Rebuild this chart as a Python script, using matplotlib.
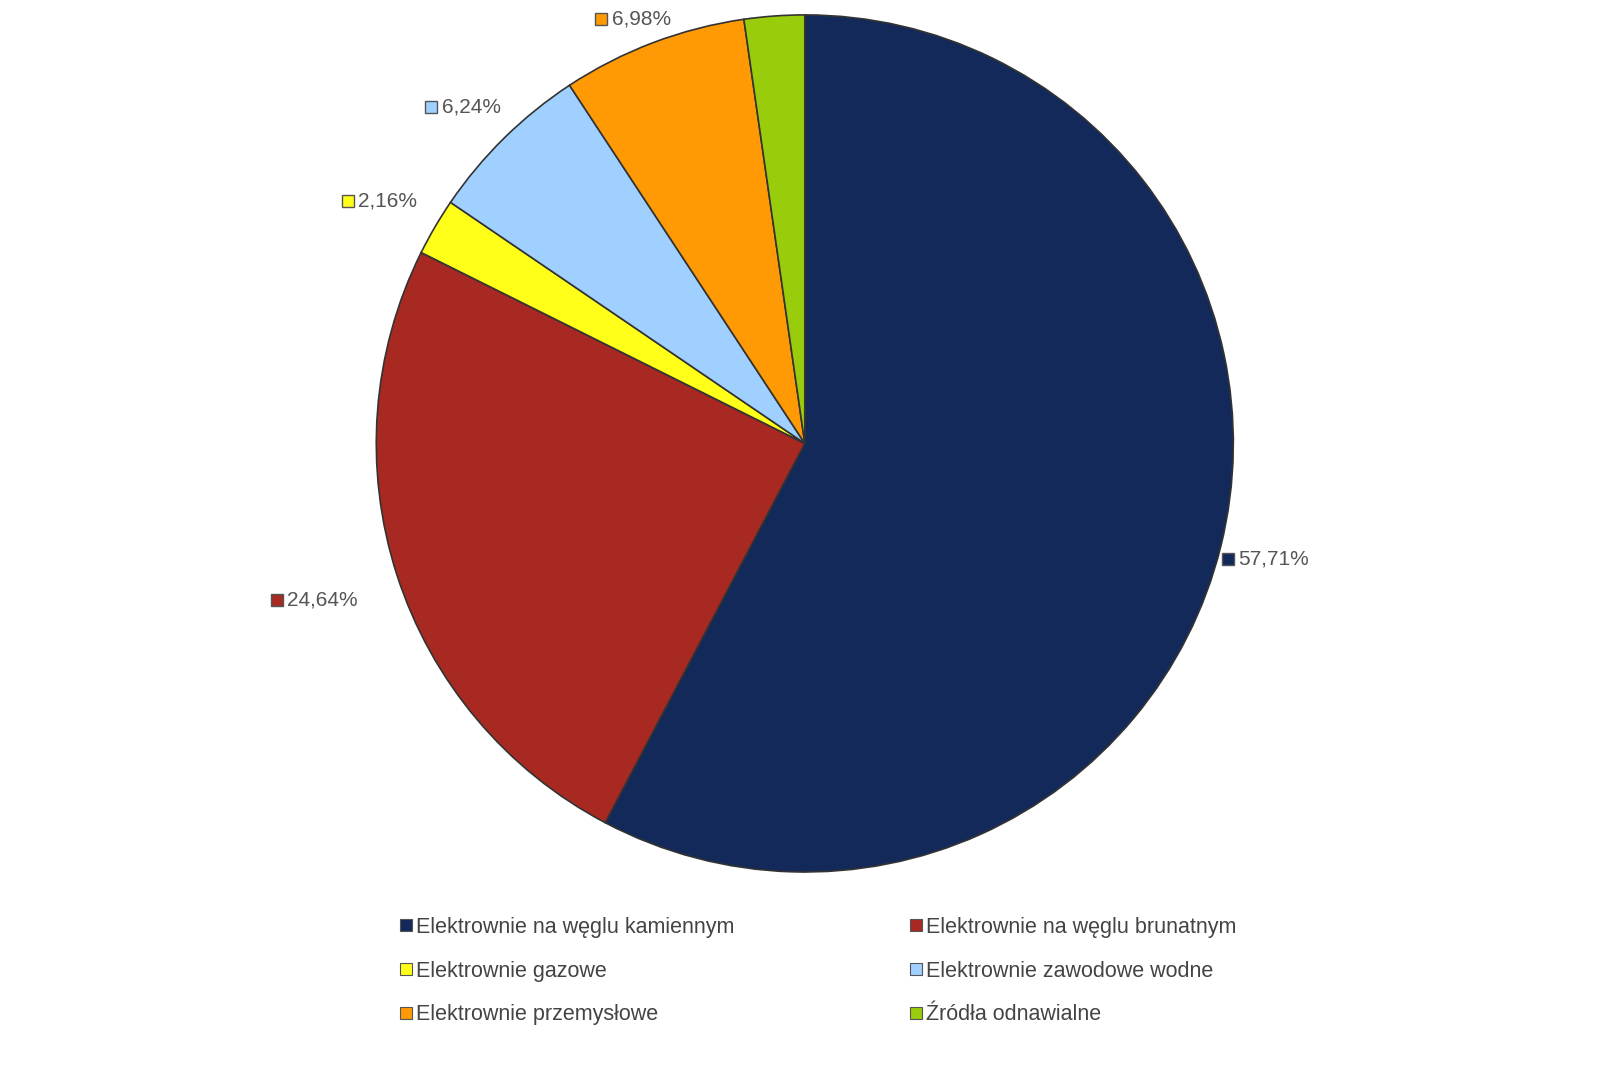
import numpy as np
import matplotlib
matplotlib.use('Agg')
import matplotlib.pyplot as plt
from matplotlib.lines import Line2D

plt.rcParams['font.family'] = ['Liberation Sans', 'DejaVu Sans']

labels = ['Elektrownie na węglu kamiennym', 'Elektrownie na węglu brunatnym',
          'Elektrownie gazowe', 'Elektrownie zawodowe wodne',
          'Elektrownie przemysłowe', 'Źródła odnawialne']
values = [57.71, 24.64, 2.16, 6.24, 6.98, 2.27]
value_text = ['57,71%', '24,64%', '2,16%', '6,24%', '6,98%', '2,27%']
colors = ['#13295a', '#a82922', '#ffff1a', '#9fd0ff', '#ff9a05', '#99cc0a']
label_r = [1.12, 1.19, 1.12, 1.1, 1.06, 1.1]

fig = plt.figure(figsize=(16, 10.66), dpi=100)
ax = fig.add_axes([0.235, 0.182, 0.536, 0.804])
wedges, _ = ax.pie(values, colors=colors, startangle=90, counterclock=False,
                   wedgeprops=dict(edgecolor='#333333', linewidth=1.2))
ax.set_aspect('equal')
ax.set_xlim(-1, 1)
ax.set_ylim(-1, 1)

for w, txt, c, r in zip(wedges, value_text, colors, label_r):
    ang = np.deg2rad((w.theta1 + w.theta2) / 2)
    x, y = r * np.cos(ang), r * np.sin(ang)
    ax.plot([x - 0.1], [y], marker='s', ms=8, color=c, mec='#555555', mew=1,
            clip_on=False)
    ax.text(x - 0.075, y, txt, fontsize=15, color='#555555', ha='left',
            va='center', clip_on=False)

order = [0, 2, 4, 1, 3, 5]
handles = [Line2D([], [], marker='s', ls='', ms=8, color=colors[i],
                  mec='#555555', mew=0.8) for i in order]
fig.legend(handles, [labels[i] for i in order], ncol=2, frameon=False,
           loc='upper left', bbox_to_anchor=(0.236, 0.158), fontsize=15.5,
           labelcolor='#444444', handletextpad=0.1, columnspacing=8.0,
           labelspacing=1.05, handlelength=0.8)

fig.savefig('out.png', facecolor='white')
